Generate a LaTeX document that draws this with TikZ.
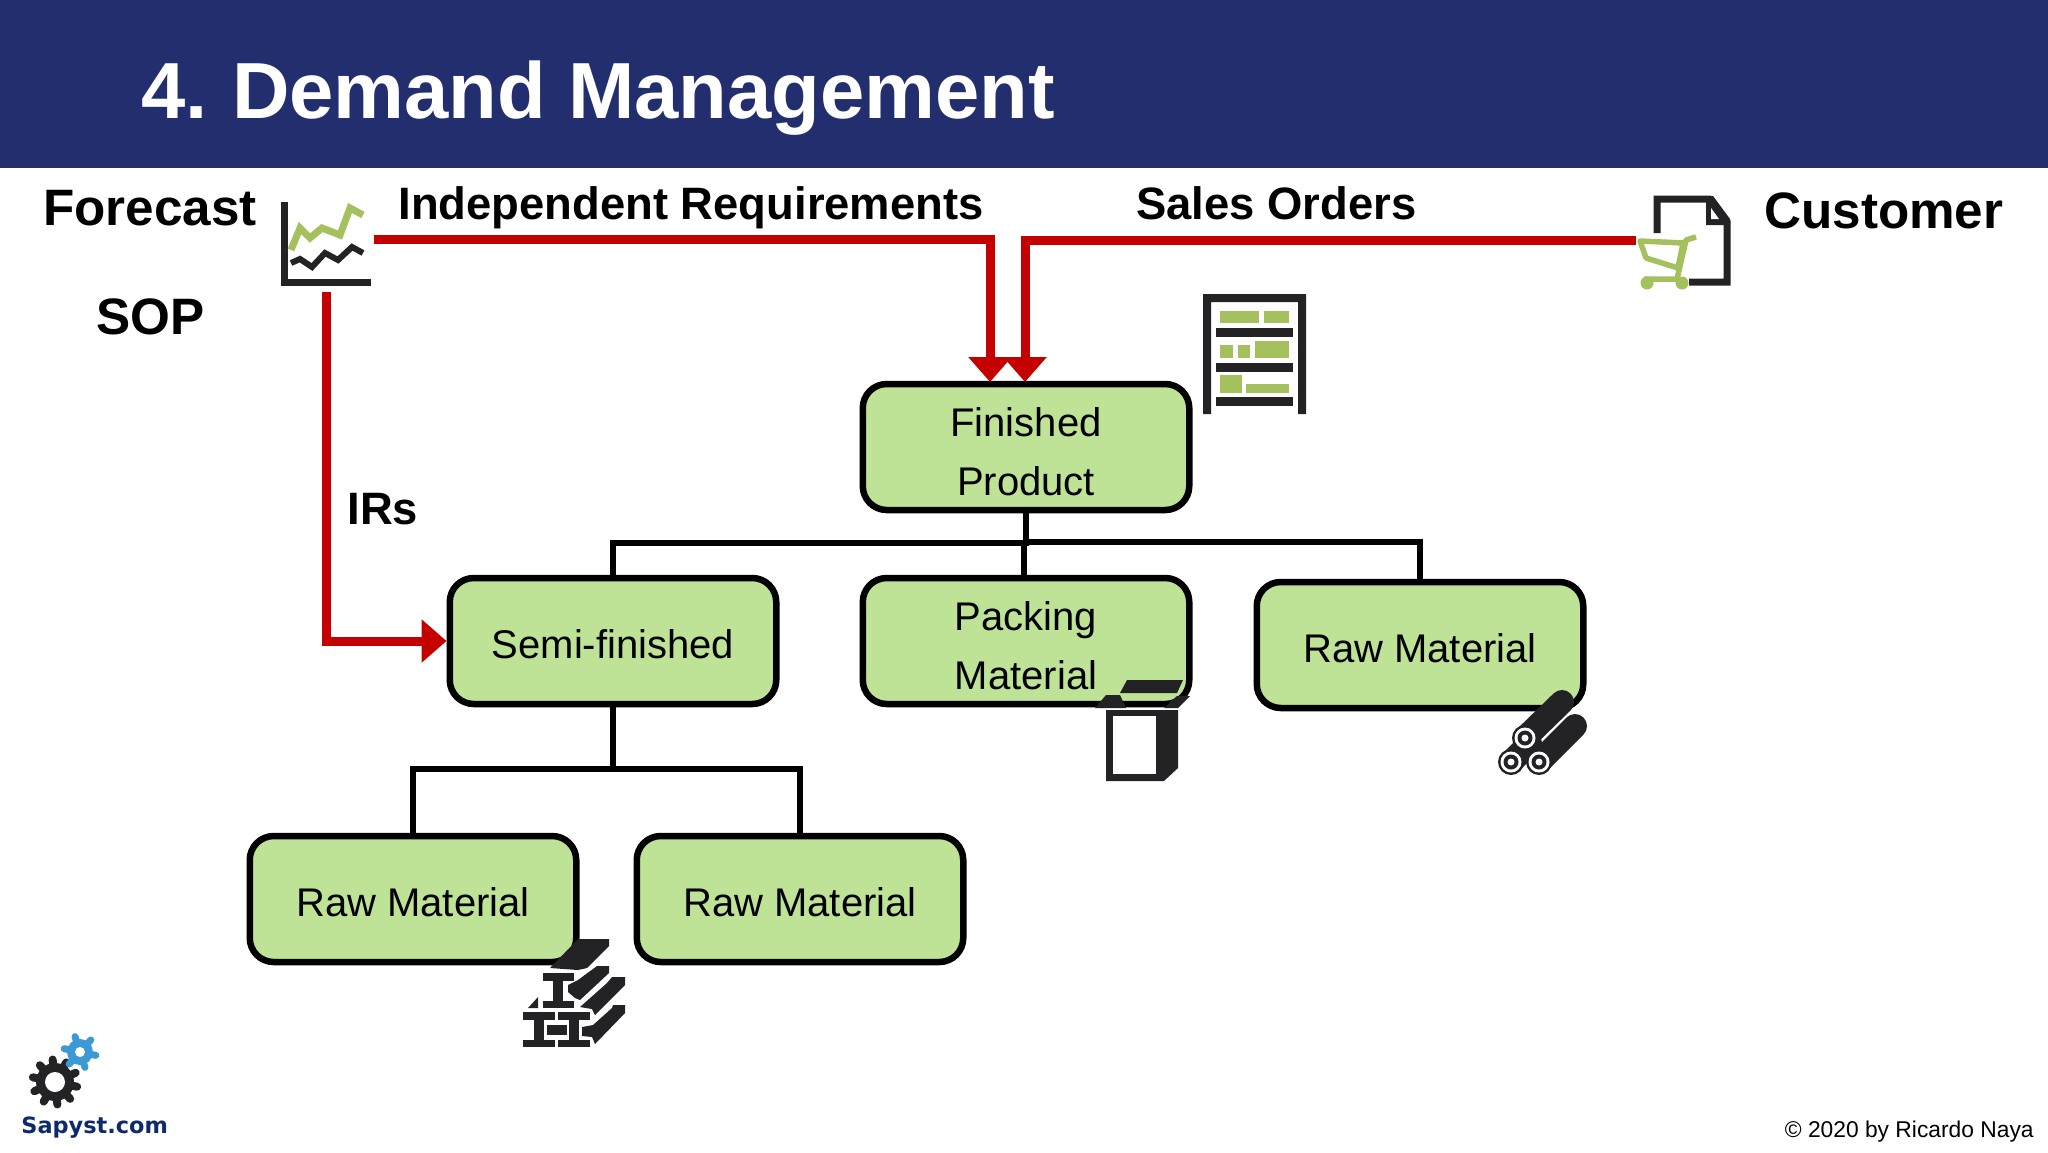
\documentclass[tikz,border=0pt]{standalone}
\usepackage{fontspec}
\setmainfont{Liberation Sans}
\newfontfamily\logofont{DejaVu Sans}
\usetikzlibrary{arrows.meta,calc}
\newlength{\du}
\setlength{\du}{0.5pt}
\newcommand{\boxstrut}[1]{\rule{0pt}{#1pt}}
\newcommand{\drawgear}[6]{%
\begin{scope}[shift={#1}]
\fill[#6] (0,0) circle[radius=#2];
\foreach \toothno in {1,...,#4}{
\draw[#6,line width=#5\du,line cap=round] (0,0) -- ({\toothno*360/#4+12}:{#2+#5*0.45});
}
\fill[white] (0,0) circle[radius=#3];
\end{scope}}
\tikzset{
matbox/.style={draw=black,fill=matgreen,line width=6.5\du,rounded corners=24\du,minimum width=326.5\du,minimum height=126\du,inner sep=0pt,align=center,font=\fontsize{20}{29.5}\selectfont},
redline/.style={draw=linered,line width=9\du,-{Triangle[length=12.5pt,width=21pt]}},
treeline/.style={draw=black,line width=6\du},
biglabel/.style={anchor=base west,inner sep=0pt,font=\fontsize{25.6}{30}\selectfont\bfseries},
smalllabel/.style={anchor=base west,inner sep=0pt,font=\fontsize{22.7}{28}\selectfont\bfseries},
icondark/.style={fill=icongrey,draw=none},
icongreen/.style={fill=leafgreen,draw=none}
}
\begin{document}
\begin{tikzpicture}[x=\du,y=-\du]
\definecolor{headerblue}{rgb}{0.133,0.180,0.431}
\definecolor{matgreen}{rgb}{0.745,0.886,0.588}
\definecolor{linered}{rgb}{0.769,0.000,0.000}
\definecolor{icongrey}{rgb}{0.137,0.137,0.149}
\definecolor{leafgreen}{rgb}{0.643,0.757,0.365}
\definecolor{gearblue}{rgb}{0.235,0.600,0.835}
\definecolor{logonavy}{rgb}{0.055,0.165,0.420}
\useasboundingbox (0,0) rectangle (2048,1152);
\fill[white] (0,0) rectangle (2048,1152);
% header
\fill[headerblue] (0,0) rectangle (2048,168);
\node[anchor=base west,inner sep=0pt,text=white,font=\fontsize{39.8}{48}\selectfont\bfseries] (title) at (141,118.5) {4.\hspace{-2.5pt} Demand Management};
% labels
\node[biglabel] (forecast) at (43,225) {Forecast};
\node[biglabel] (sop) at (96,334) {SOP};
\node[smalllabel] (indep) at (398,219) {Independent Requirements};
\node[smalllabel] (sales) at (1136,219) {Sales Orders};
\node[biglabel] (customer) at (1764,228) {Customer};
\node[smalllabel] (irs) at (347,524) {IRs};
% boxes
\node[matbox] (finished) at (1026,447) {\boxstrut{19.1}Finished\\Product};
\node[matbox] (semi) at (613,641) {\boxstrut{17.5}Semi-finished};
\node[matbox] (packing) at (1026,641) {\boxstrut{19.1}Packing\\Material};
\node[matbox] (rawright) at (1420,645) {\boxstrut{17.5}Raw Material};
\node[matbox] (rawleft) at (413,899) {\boxstrut{17.5}Raw Material};
\node[matbox] (rawmid) at (800,899) {\boxstrut{17.5}Raw Material};
% tree
\draw[treeline] (finished.south) -- (1026,543) -| (semi.north);
\draw[treeline] (finished.south) -- (1026,542) -| (rawright.north);
\draw[treeline] (1024,543) -- (1024,576);
\draw[treeline] (semi.south) -- (613,769) -| (rawleft.north);
\draw[treeline] (semi.south) -- (613,769) -| (rawmid.north);
% red connectors
\coordinate (chartright) at (374,239);
\coordinate (chartdown) at (326,292);
\coordinate (cartleft) at (1636,240);
\coordinate (firstin) at (990,382);
\coordinate (secondin) at (1025,382);
\draw[redline] (chartright) -| (firstin);
\draw[redline] (cartleft) -| (secondin);
\draw[redline] (chartdown) |- (semi.west);
% chart icon
\draw[icongrey,line width=7\du] (284.5,202) -- (284.5,282) -- (371,282);
\draw[leafgreen,line width=7\du] (291,250) -- (300,228) -- (310,238) -- (322,228) -- (340,235) -- (350,208) -- (363,215);
\draw[icongrey,line width=6\du] (291,263) -- (300,259) -- (312,267) -- (325,253) -- (338,260) -- (352,247) -- (363,253);
% document and cart icon
\draw[icongrey,line width=7\du] (1657,233) -- (1657,199) -- (1709,199) -- (1727,222) -- (1727,282) -- (1689,282);
\fill[icondark] (1706,196) -- (1713,196) -- (1730,219) -- (1730,225) -- (1706,225) -- cycle;
\fill[white] (1711,208) -- (1719,219) -- (1711,219) -- cycle;
\draw[leafgreen,line width=5.5\du,line join=round] (1696,237) -- (1686,240) -- (1677,279) -- (1644,279);
\draw[leafgreen,line width=5.5\du,line join=round] (1640,241) -- (1683,243) -- (1678,268) -- (1646,258) -- cycle;
\fill[leafgreen] (1647,283) circle[radius=6.5];
\fill[leafgreen] (1682,283) circle[radius=6.5];
% shelf icon
\fill[icondark] (1203,414) -- (1203,294) -- (1306,294) -- (1306,414) -- (1298,414) -- (1298,302) -- (1211,302) -- (1211,414) -- cycle;
\foreach \shelfy in {328,363,397}{
\fill[icondark] (1216,\shelfy) rectangle (1293,\shelfy+8.5);
}
\fill[icongreen] (1220,311) rectangle (1259,323);
\fill[icongreen] (1264,311) rectangle (1289,323);
\fill[icongreen] (1220,345) rectangle (1233,358);
\fill[icongreen] (1238,345) rectangle (1250,358);
\fill[icongreen] (1255,341) rectangle (1289,358);
\fill[icongreen] (1220,375) rectangle (1242,393);
\fill[icongreen] (1246,384) rectangle (1289,393);
% box icon
\fill[icondark] (1127,680) -- (1183,680) -- (1177,693) -- (1120,693) -- cycle;
\fill[icondark] (1095,708) -- (1106,695) -- (1120,695) -- (1126,708) -- cycle;
\fill[icondark] (1164,708) -- (1177,696) -- (1190,696) -- (1178,708) -- cycle;
\fill[icondark] (1106,710) -- (1178,710) -- (1178,768) -- (1164,781) -- (1106,781) -- cycle;
\fill[white] (1112.5,716) rectangle (1156,774);
% logs icon
\foreach \logx/\logy/\logex/\logey in {1511/762/1530/743,1539/762/1575/726,1525/738/1562/702}{
\draw[icongrey,line width=24\du,line cap=round] (\logx,\logy) -- (\logex,\logey);
\fill[icongrey] (\logx,\logy) circle[radius=13];
\fill[white] (\logx,\logy) circle[radius=10.5];
\fill[icongrey] (\logx,\logy) circle[radius=7.5];
\fill[white] (\logx,\logy) circle[radius=3.5];
}
% beams icon
\fill[icondark] (550,968) -- (578,939) -- (609,939) -- (609,946) -- (587,968) -- (578,970) -- cycle;
\fill[icondark] (597,966) -- (609,966) -- (609,973) -- (580,1000) -- (575,998) -- (568,992) -- (568,985) -- (578,980) -- cycle;
\fill[icondark] (612,977) -- (625,977) -- (625,985) -- (595,1015) -- (592,1009) -- (580,1007) -- (607,983) -- cycle;
\fill[icondark] (613,1005) -- (625,1005) -- (625,1013) -- (595,1044) -- (592,1037) -- (582,1036) -- (582,1027) -- (593,1025) -- (612,1008) -- cycle;
\fill[icondark] (528,1008) -- (538,997) -- (538,1008) -- cycle;
\fill[icondark] (543,973) rectangle (574,981);
\fill[icondark] (553,981) rectangle (563,1001);
\fill[icondark] (543,1001) rectangle (574,1008);
\foreach \beamx in {523,558}{
\fill[icondark] (\beamx,1012) rectangle (\beamx+32,1020);
\fill[icondark] (\beamx+11,1020) rectangle (\beamx+21,1040);
\fill[icondark] (\beamx,1040) rectangle (\beamx+32,1047);
}
\fill[icondark] (547,1025) rectangle (567,1035);
% logo
\drawgear{(55,1082)}{19}{10}{10}{8}{icongrey}
\drawgear{(80,1052)}{13}{5}{6}{7}{gearblue}
\node[anchor=base west,inner sep=0pt,text=logonavy,font=\fontsize{11.2}{14}\logofont\bfseries] (logo) at (21,1133) {Sapyst.com};
% copyright
\node[anchor=base east,inner sep=0pt,font=\fontsize{11.4}{14}\selectfont] (copy) at (2034,1137) {© 2020 by Ricardo Naya};
\end{tikzpicture}
\end{document}
